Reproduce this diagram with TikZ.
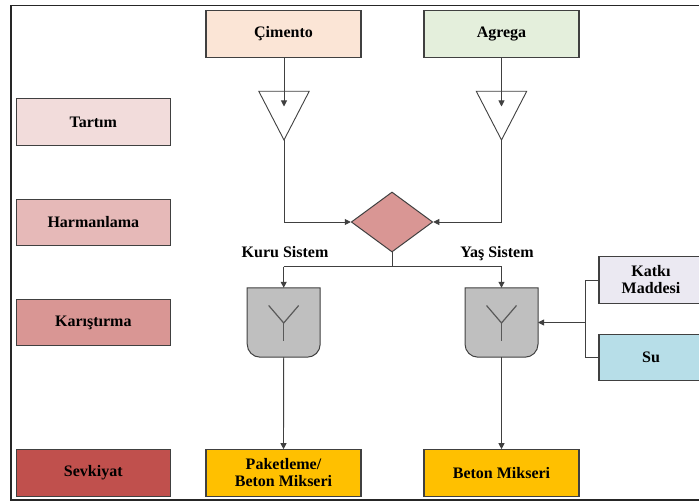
\documentclass[tikz,border=0pt]{standalone}
\usepackage{fontspec}
\setmainfont{Liberation Serif}
\usetikzlibrary{shapes.geometric,arrows.meta}
\definecolor{linec}{HTML}{404040}
\definecolor{cimc}{HTML}{FBE5D6}
\definecolor{agrc}{HTML}{E4EFDC}
\definecolor{tarc}{HTML}{F2DCDB}
\definecolor{harc}{HTML}{E6B9B8}
\definecolor{karc}{HTML}{D99694}
\definecolor{sevc}{HTML}{C0504D}
\definecolor{yelc}{HTML}{FFC000}
\definecolor{katc}{HTML}{EBE9F2}
\definecolor{suc}{HTML}{B7DEE8}
\definecolor{mixc}{HTML}{BFBFBF}
\begin{document}
\begin{tikzpicture}[x=1pt,y=1pt,
  font=\fontsize{16}{17}\selectfont\bfseries,
  box/.style={draw=linec,line width=1.1pt,minimum width=155pt,minimum height=46.5pt,inner sep=1pt,align=center},
  conn/.style={draw=linec,line width=0.9pt},
  arr/.style={conn,-{Triangle[length=6pt,width=6pt]}},
  mixer/.style={draw=linec,line width=1pt,fill=mixc},
  ysym/.style={draw=black!65,line width=1.2pt}]
\useasboundingbox (0,0) rectangle (699,503);
% outer frame
\draw[line width=1.8pt,draw=black!85] (11,3) rectangle (730,497.5);
% top inputs
\node[box,fill=cimc] (cim) at (283.5,469) {Çimento};
\node[box,fill=agrc] (agr) at (501.5,469) {Agrega};
% stage labels
\node[box,fill=tarc,minimum width=153.5pt] (tar) at (93.3,381) {Tartım};
\node[box,fill=harc,minimum width=153.5pt] (har) at (93.3,280.5) {Harmanlama};
\node[box,fill=karc,minimum width=153.5pt] (kar) at (93.3,180.5) {Karıştırma};
\node[box,fill=sevc,minimum width=153.5pt] (sev) at (93.3,30) {Sevkiyat};
% outputs
\node[box,fill=yelc] (pak) at (283.5,30) {Paketleme/\\Beton Mikseri};
\node[box,fill=yelc] (bet) at (501.5,30) {Beton Mikseri};
% additives
\node[box,fill=katc,minimum width=104pt] (kat) at (651,223) {Katkı\\Maddesi};
\node[box,fill=suc,minimum width=104pt] (su) at (651,145.5) {Su};
% weighing triangles
\coordinate (t1) at (284,363);
\coordinate (t2) at (501.5,363);
\draw[draw=linec,line width=0.9pt,fill=white] (258.8,411.7) -- (309.2,411.7) -- (t1) -- cycle;
\draw[draw=linec,line width=0.9pt,fill=white] (476.3,411.7) -- (526.7,411.7) -- (t2) -- cycle;
\coordinate (t1in) at (284,396.5);
\coordinate (t2in) at (501.5,396.5);
\draw[arr] (cim.south -| t1) -- (t1in);
\draw[arr] (agr.south -| t2) -- (t2in);
% blending diamond
\node[diamond,draw=linec,line width=1pt,fill=karc,minimum width=81.5pt,minimum height=60pt,aspect=1.36,inner sep=0pt] (dia) at (392,281) {};
\draw[arr] (t1) |- (dia.west);
\draw[arr] (t2) |- (dia.east);
% mixers
\node[minimum width=72.6pt,minimum height=69pt,inner sep=0pt] (m1) at (283.7,180.5) {};
\node[minimum width=72.6pt,minimum height=69pt,inner sep=0pt] (m2) at (501.5,180.5) {};
\foreach \m in {m1,m2}{
  \draw[mixer] (\m.north west) -- ([yshift=13pt]\m.south west) arc[start angle=180,end angle=270,radius=13pt]
    -- ([xshift=-13pt]\m.south east) arc[start angle=270,end angle=360,radius=13pt] -- (\m.north east) -- cycle;
  \draw[ysym] ([shift={(-15pt,17pt)}]\m.center) -- ([yshift=-0.5pt]\m.center) -- ([shift={(15pt,17pt)}]\m.center);
  \draw[ysym] ([yshift=-0.5pt]\m.center) -- ([yshift=-18.5pt]\m.center);
}
% split below diamond
\coordinate (br) at (392,236.3);
\coordinate (brl) at (283.7,236.3);
\coordinate (brr) at (501.5,236.3);
\draw[conn] (dia.south) -- (br);
\draw[conn] (brl) -- (brr);
\draw[arr] (brl) -- (m1.north);
\draw[arr] (brr) -- (m2.north);
\node[anchor=base] (kuru) at (285,245.5) {Kuru Sistem};
\node[anchor=base] (yas) at (497,245.5) {Yaş Sistem};
% additive bracket
\coordinate (bk) at (585,180.5);
\draw[conn] (kat.west) -| (bk);
\draw[conn] (su.west) -| (bk);
\draw[arr] (bk) -- (m2.east);
% to outputs
\draw[arr] (m1.south) -- (pak.north);
\draw[arr] (m2.south) -- (bet.north);
\end{tikzpicture}
\end{document}
